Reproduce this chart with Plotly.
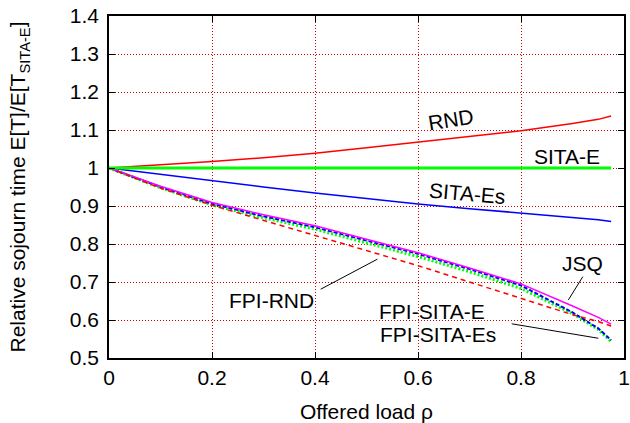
import plotly.graph_objects as go

# ---- data ----
load = [0, 0.1, 0.2, 0.3, 0.4, 0.5, 0.6, 0.7, 0.8, 0.9, 0.95, 0.975]
rnd = [1, 1.008, 1.017, 1.027, 1.039, 1.053, 1.068, 1.083, 1.098, 1.117, 1.128, 1.137]
sita_e = [1, 1, 1, 1, 1, 1, 1, 1, 1, 1, 1, 1]
sita_es = [1, 0.983, 0.966, 0.950, 0.934, 0.919, 0.905, 0.893, 0.881, 0.869, 0.864, 0.859]
fpi_sita_e = [1, 0.948, 0.903, 0.869, 0.839, 0.803, 0.767, 0.727, 0.683, 0.617, 0.575, 0.543]
fpi_sita_es = [1, 0.950, 0.906, 0.873, 0.844, 0.809, 0.774, 0.734, 0.691, 0.620, 0.578, 0.547]
jsq = [1, 0.952, 0.909, 0.877, 0.848, 0.812, 0.777, 0.737, 0.695, 0.637, 0.607, 0.589]
fpi_rnd = [1, 0.947, 0.902, 0.862, 0.824, 0.784, 0.743, 0.700, 0.657, 0.614, 0.596, 0.584]

x_ticks = [0, 0.2, 0.4, 0.6, 0.8, 1]
y_ticks = [0.5, 0.6, 0.7, 0.8, 0.9, 1, 1.1, 1.2, 1.3, 1.4]

FONT = "Liberation Sans, Arial, Helvetica, sans-serif"
FS = 21

fig = go.Figure()
fig.add_trace(go.Scatter(x=load, y=rnd, mode="lines", line=dict(color="#ff0000", width=1.5)))
fig.add_trace(go.Scatter(x=load, y=sita_es, mode="lines", line=dict(color="#0000ff", width=1.5)))
fig.add_trace(go.Scatter(x=load, y=fpi_sita_e, mode="lines", line=dict(color="#00ff00", width=3, dash="2px,2px")))
fig.add_trace(go.Scatter(x=load, y=fpi_sita_es, mode="lines", line=dict(color="#0000ff", width=2, dash="4px,2px")))
fig.add_trace(go.Scatter(x=load, y=jsq, mode="lines", line=dict(color="#ff00ff", width=1.5)))
fig.add_trace(go.Scatter(x=load, y=fpi_rnd, mode="lines", line=dict(color="#ff0000", width=1.5, dash="5px,4px")))
fig.add_trace(go.Scatter(x=load, y=sita_e, mode="lines", line=dict(color="#00ff00", width=3)))

labels = [
    ("RND", 0.665, 1.128, -9),
    ("SITA-E", 0.889, 1.030, 0),
    ("SITA-Es", 0.697, 0.934, 5),
    ("JSQ", 0.920, 0.749, 0),
    ("FPI-SITA-E", 0.628, 0.622, 0),
    ("FPI-SITA-Es", 0.639, 0.561, 0),
    ("FPI-RND", 0.315, 0.651, 0),
]
for txt, ax_, ay_, ang in labels:
    fig.add_annotation(x=ax_, y=ay_, text=txt, showarrow=False, textangle=ang,
                       font=dict(family=FONT, size=FS, color="black"))

pointers = [
    (0.920, 0.714, 0.892, 0.653),
    (0.782, 0.590, 0.950, 0.552),
    (0.411, 0.681, 0.521, 0.760),
]
for x0, y0, x1, y1 in pointers:
    fig.add_shape(type="line", x0=x0, y0=y0, x1=x1, y1=y1, xref="x", yref="y",
                  line=dict(color="black", width=1))

axis_common = dict(
    showline=True, linecolor="black", linewidth=1.5, mirror="ticks",
    ticks="inside", ticklen=6, tickcolor="black", tickwidth=1,
    showgrid=True, gridcolor="rgb(200,0,0)", gridwidth=1, griddash="1px,2px",
    zeroline=False, tickfont=dict(family=FONT, size=FS, color="black"),
)
fig.update_xaxes(range=[0, 1], tickvals=x_ticks, ticktext=[str(v) for v in x_ticks],
                 title=dict(text="Offered load ρ", font=dict(family=FONT, size=FS, color="black"), standoff=17),
                 **axis_common)
fig.update_yaxes(range=[0.5, 1.4], tickvals=y_ticks, ticktext=[f"{v:g}" for v in y_ticks],
                 ticklabelstandoff=4,
                 title=dict(text="Relative sojourn time E[T]/E[T<sub>SITA-E</sub>]",
                            font=dict(family=FONT, size=FS, color="black"), standoff=38),
                 **axis_common)
fig.update_layout(
    width=630, height=423, showlegend=False,
    margin=dict(l=109, r=6, t=16, b=65, autoexpand=False),
    plot_bgcolor="white", paper_bgcolor="white",
    font=dict(family=FONT, color="black"),
)
fig.write_html("out.html")
